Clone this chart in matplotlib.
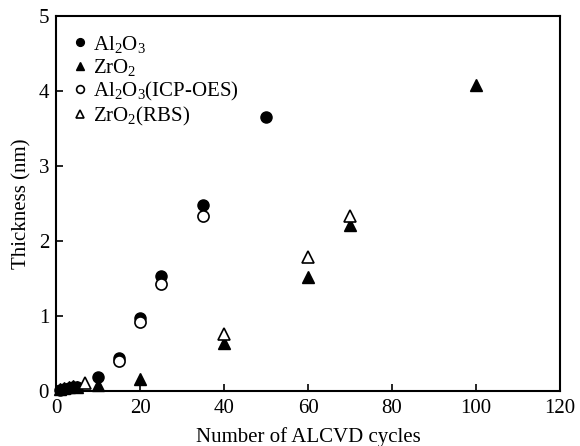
import matplotlib
matplotlib.use("Agg")
import matplotlib.pyplot as plt

plt.rcParams['font.family'] = ['Liberation Serif', 'DejaVu Serif']
plt.rcParams['mathtext.fontset'] = 'custom'
plt.rcParams['mathtext.rm'] = 'Liberation Serif'
plt.rcParams['mathtext.it'] = 'Liberation Serif:italic'

# Data
al_x = [1, 2, 3, 4, 5, 10, 15, 20, 25, 35, 50]
al_y = [0.02, 0.03, 0.04, 0.05, 0.06, 0.19, 0.44, 0.98, 1.53, 2.48, 3.65]
zr_x = [1, 2, 3, 4, 5, 10, 20, 40, 60, 70, 100]
zr_y = [0.03, 0.04, 0.06, 0.07, 0.05, 0.08, 0.16, 0.64, 1.52, 2.21, 4.08]
icp_x = [15, 20, 25, 35]
icp_y = [0.40, 0.92, 1.43, 2.33]
rbs_x = [7, 40, 60, 70]
rbs_y = [0.11, 0.76, 1.79, 2.33]

xticks = [0, 20, 40, 60, 80, 100, 120]
yticks = [0, 1, 2, 3, 4, 5]

fig = plt.figure(figsize=(5.8, 4.46), dpi=100)
ax = fig.add_axes([0.0966, 0.1233, 0.8690, 0.8407])

ms = 8
ax.plot(al_x, al_y, 'o', color='black', ms=ms, ls='none', label=r'Al$_2$O$_3$', clip_on=False)
ax.plot(zr_x, zr_y, '^', color='black', ms=ms, ls='none', label=r'ZrO$_2$', clip_on=False)
ax.plot(icp_x, icp_y, 'o', mfc='white', mec='black', mew=1.2, ms=ms, ls='none',
        label=r'Al$_2$O$_3$(ICP-OES)', clip_on=False)
ax.plot(rbs_x, rbs_y, '^', mfc='white', mec='black', mew=1.2, ms=ms, ls='none',
        label=r'ZrO$_2$(RBS)', clip_on=False)

ax.set_xlim(0, 120)
ax.set_ylim(0, 5)
ax.set_xticks(xticks)
ax.set_yticks(yticks)
ax.tick_params(direction='in', length=5, width=1.2, labelsize=15, top=False, right=False)
ax.tick_params(axis='x', pad=6)
ax.tick_params(axis='y', pad=5)
for s in ax.spines.values():
    s.set_linewidth(1.5)

ax.set_xlabel('Number of ALCVD cycles', fontsize=15, labelpad=6)
ax.set_ylabel('Thickness (nm)', fontsize=15, labelpad=5)

leg = ax.legend(loc='upper left', frameon=False, fontsize=15, handletextpad=0.15,
                labelspacing=0.1, borderaxespad=0.0, handlelength=1.0,
                markerscale=0.7, bbox_to_anchor=(0.01, 0.975))

fig.savefig('out.png', dpi=100)
